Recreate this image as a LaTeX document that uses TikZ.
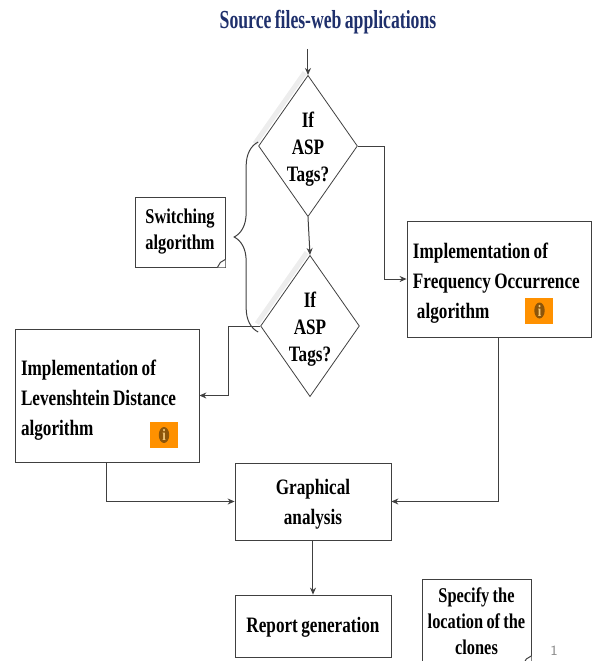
\documentclass[tikz,border=0pt]{standalone}
\usepackage{fontspec}
\setmainfont{Liberation Serif}[FakeStretch=0.78, WordSpace=0.8]
\newfontfamily\titlefont{Liberation Serif}[FakeStretch=0.68, WordSpace=0.75]
\usepackage{xcolor}
\usetikzlibrary{shapes.geometric, arrows.meta, positioning, decorations.pathreplacing}
\definecolor{titleblue}{RGB}{31,48,108}
\definecolor{linegray}{RGB}{64,64,64}
\definecolor{infoorange}{RGB}{255,145,0}
\definecolor{infobrown}{RGB}{140,85,10}
\definecolor{infolight}{RGB}{245,200,120}

\begin{document}
\begin{tikzpicture}[
			x=0.5pt, y=-0.5pt,
			font=\bfseries\fontsize{11}{15}\selectfont,
			block/.style={draw=linegray, rectangle, inner sep=0pt, minimum width=92pt},
			decision/.style={diamond, draw=linegray, inner sep=0pt, shape aspect=0.7, minimum width=47pt, minimum height=66pt, align=center, font=\bfseries\fontsize{11}{13.5}\selectfont},
			note/.style={draw=linegray, rectangle, inner sep=0pt, align=center, font=\bfseries\fontsize{10.5}{13}\selectfont},
			icon/.style={fill=infoorange, inner sep=0pt, minimum width=14pt, minimum height=13pt, text=infolight, font=\bfseries\fontsize{8}{8}\selectfont,
				path picture={\fill[infobrown] (path picture bounding box.center) ellipse (2.6pt and 4pt);}},
			arrow/.style={-{Stealth[length=3.5pt, width=3pt]}, linegray, line width=0.5pt},
			line/.style={linegray, line width=0.5pt}
			]
			\useasboundingbox (0,0) rectangle (593,661);
			
			% Nodes
			\node (title) at (328,22) {\titlefont\fontsize{13}{15}\selectfont\color{titleblue} Source files-web applications};
			\node (d1) [decision] at (308,146) {\rule{0pt}{11pt}If\\ASP\\Tags?};
			\node (d2) [decision] at (310,326) {\rule{0pt}{11pt}If\\ASP\\Tags?};
			\draw [line width=2.5pt, black!7] ([shift={(-1.6pt,1.2pt)}]d1.north) -- ([shift={(-1.6pt,1.2pt)}]d1.west);
			\draw [line width=2.5pt, black!7] ([shift={(-1.6pt,1.2pt)}]d2.north) -- ([shift={(-1.6pt,1.2pt)}]d2.west);
			\node (switch) [note, minimum width=45pt, minimum height=35pt] at (180,232) {Switching\\algorithm};
			\node (freq) [block, minimum height=58pt, text width=86pt, align=flush left] at (499,279) {\rule{0pt}{12pt}Implementation of\\Frequency Occurrence\\\hspace{2pt}algorithm};
			\node (freqinfo) [icon] at (539.5,310.5) {i};
			\node (lev) [block, minimum height=66.5pt, text width=86pt, align=flush left] at (107,395.5) {\rule{0pt}{12pt}Implementation of\\Levenshtein Distance\\algorithm};
			\node (levinfo) [icon] at (164,435) {i};
			\node (graph) [block, minimum width=78pt, minimum height=38.5pt, align=center] at (313,501.5) {\rule{0pt}{10pt}Graphical\\analysis};
			\node (report) [block, minimum width=78pt, minimum height=31pt] at (313,626) {\rule{0pt}{9pt}Report generation};
			\node (clones) [note, minimum width=54.5pt, minimum height=42pt] at (476.5,621.5) {Specify the\\location of the\\clones};
			\node (pagenum) [font=\sffamily\fontsize{7}{8}\selectfont, text=black!45] at (554,651) {1};
			
			% Folded corners
			\fill [white] ([xshift=-4pt]switch.south east) -- (switch.south east) -- ([yshift=4pt]switch.south east) -- cycle;
			\draw [line] ([xshift=-4pt]switch.south east) -- ([shift={(-2.5pt,2.5pt)}]switch.south east) -- ([yshift=4pt]switch.south east);
			\fill [white] ([xshift=-4pt]clones.south east) -- (clones.south east) -- ([yshift=4pt]clones.south east) -- cycle;
			\draw [line] ([xshift=-4pt]clones.south east) -- ([shift={(-2.5pt,2.5pt)}]clones.south east) -- ([yshift=4pt]clones.south east);
			
			% Brace
			\draw [line, decorate, decoration={brace, amplitude=12pt}] ([yshift=-3pt]d1.west |- d2.west) -- ([yshift=2pt]d1.west);
			
			% Connections
			\draw [arrow] ([yshift=-4pt]title.south -| d1.north) -- (d1.north);
			\draw [arrow] (d1.south) -- (d2.north);
			\draw [arrow] (d1.east) -- ++(13.5pt,0) |- (freq.west);
			\draw [arrow] (d2.west) -- ++(-16pt,0) |- (lev.east);
			\draw [arrow] (lev.south) |- (graph.west);
			\draw [arrow] (freq.south) |- (graph.east);
			\draw [arrow] (graph.south) -- (report.north);
			
		\end{tikzpicture}
\end{document}
